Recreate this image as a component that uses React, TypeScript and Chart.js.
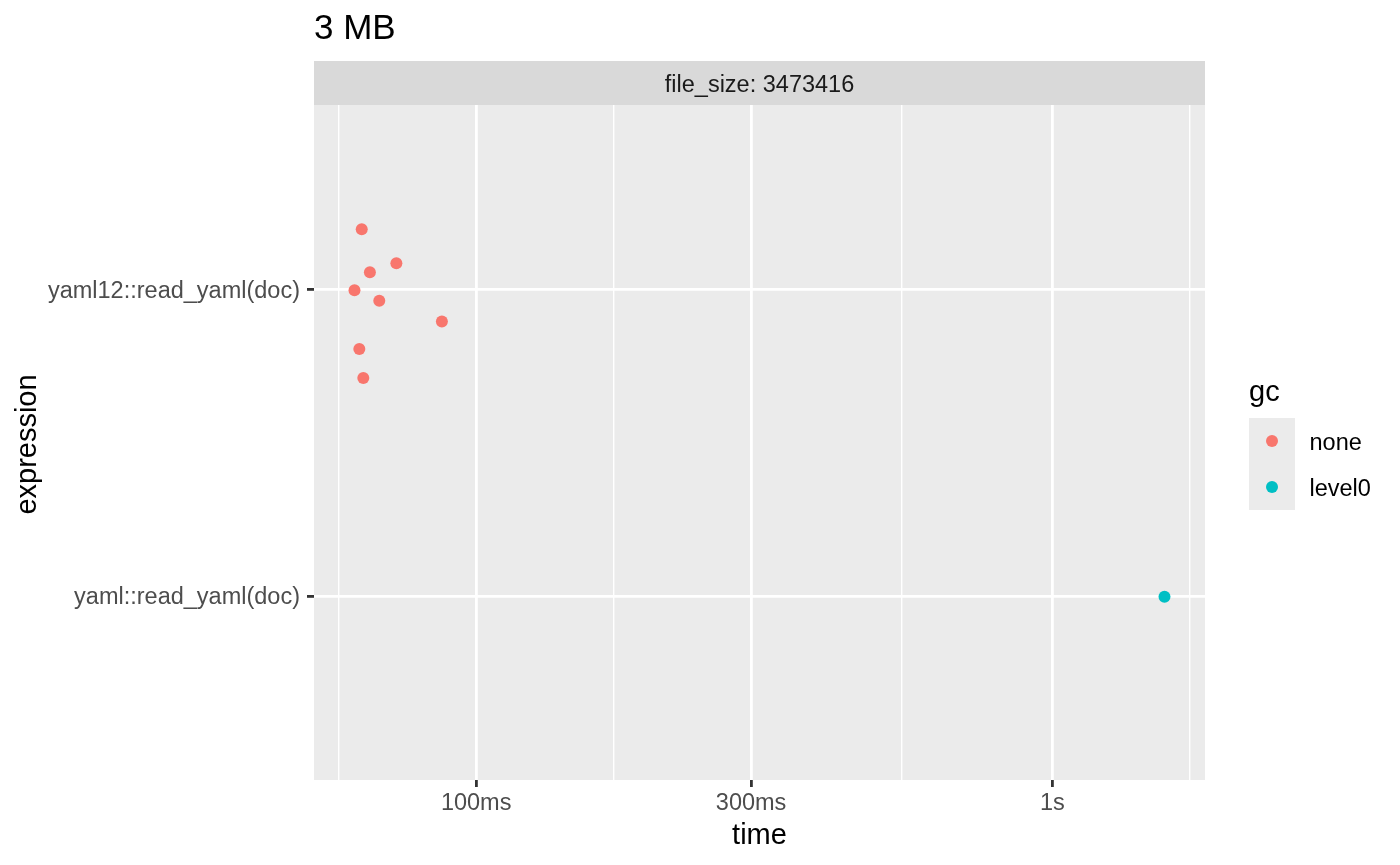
import React, { useEffect, useRef } from 'react';
import { Chart, registerables } from 'chart.js';

Chart.register(...registerables);

// ---- data ----
const chartTitle = '3 MB';
const stripLabel = 'file_size: 3473416';
const categories = ['yaml::read_yaml(doc)', 'yaml12::read_yaml(doc)'];
const gcLevels = ['none', 'level0'];
const gcColors = ['#F8766D', '#00BFC4'];

const noneCategory = 'yaml12::read_yaml(doc)';
const noneTimesMs = [63.3, 72.7, 65.4, 61.5, 67.9, 87.2, 62.7, 63.7];
const noneJitter = [0.195, 0.084, 0.055, -0.004, -0.038, -0.106, -0.195, -0.29];

const level0Category = 'yaml::read_yaml(doc)';
const level0TimesMs = [1565];
const level0Jitter = [-0.003];

const majorBreaksMs = [100, 300, 1000];
const majorLabels = ['100ms', '300ms', '1s'];

const xTitle = 'time';
const yTitle = 'expression';
const legendTitle = 'gc';

const FONT = '"Liberation Sans", Arial, Helvetica, sans-serif';
const SMALL = 23.5;

// ---- derived scale settings (ggplot-like) ----
const allLogs = [...noneTimesMs, ...level0TimesMs].map(Math.log10);
const logMin = Math.min(...allLogs);
const logMax = Math.max(...allLogs);
const logExp = (logMax - logMin) * 0.05;
const xMin = Math.pow(10, logMin - logExp);
const xMax = Math.pow(10, logMax + logExp);

const majLog = majorBreaksMs.map(Math.log10);
const bd = majLog[1] - majLog[0];
const extLog = [majLog[0] - bd, ...majLog, majLog[majLog.length - 1] + bd];
const minorBreaksMs: number[] = [];
for (let i = 0; i < extLog.length - 1; i++) {
  const v = Math.pow(10, (extLog[i] + extLog[i + 1]) / 2);
  if (v >= xMin && v <= xMax) minorBreaksMs.push(v);
}
const xTicksAll = [...minorBreaksMs, ...majorBreaksMs].sort((a, b) => a - b);
const isMajor = (v: number) => majorBreaksMs.some((m) => Math.abs(m - v) < 1e-6);

const yMin = 0.4;
const yMax = categories.length + 0.6;

const catPos = (c: string) => categories.indexOf(c) + 1;

const noneData = noneTimesMs.map((t, i) => ({ x: t, y: catPos(noneCategory) + noneJitter[i] }));
const level0Data = level0TimesMs.map((t, i) => ({ x: t, y: catPos(level0Category) + level0Jitter[i] }));

const POINT_R = 6;

const decorPlugin = {
  id: 'ggDecor',
  beforeDraw(chart: any) {
    const { ctx, chartArea: a } = chart;
    ctx.save();
    ctx.fillStyle = '#FFFFFF';
    ctx.fillRect(0, 0, chart.width, chart.height);
    ctx.fillStyle = '#EBEBEB';
    ctx.fillRect(a.left, a.top, a.right - a.left, a.bottom - a.top);
    ctx.restore();
  },
  afterDraw(chart: any) {
    const { ctx, chartArea: a } = chart;
    ctx.save();
    // title
    ctx.fillStyle = '#000000';
    ctx.font = `35px ${FONT}`;
    ctx.textAlign = 'left';
    ctx.textBaseline = 'alphabetic';
    ctx.fillText(chartTitle, a.left, 39);

    // strip
    ctx.fillStyle = '#D9D9D9';
    ctx.fillRect(a.left, 61, a.right - a.left, a.top - 61);
    ctx.fillStyle = '#1A1A1A';
    ctx.font = `${SMALL}px ${FONT}`;
    ctx.textAlign = 'center';
    ctx.textBaseline = 'alphabetic';
    ctx.fillText(stripLabel, (a.left + a.right) / 2, 92);

    // x title
    ctx.fillStyle = '#000000';
    ctx.font = `29px ${FONT}`;
    ctx.textAlign = 'center';
    ctx.textBaseline = 'alphabetic';
    ctx.fillText(xTitle, (a.left + a.right) / 2, 844);

    // y title
    ctx.save();
    ctx.translate(36, (a.top + a.bottom) / 2 + 2);
    ctx.rotate(-Math.PI / 2);
    ctx.fillText(yTitle, 0, 0);
    ctx.restore();

    // legend
    ctx.textAlign = 'left';
    ctx.fillText(legendTitle, 1249, 401);
    const keyX = 1249;
    const keyY = 418;
    const keySize = 46;
    ctx.fillStyle = '#EBEBEB';
    ctx.fillRect(keyX, keyY, keySize, keySize * gcLevels.length);
    ctx.font = `${SMALL}px ${FONT}`;
    ctx.textBaseline = 'alphabetic';
    gcLevels.forEach((lvl, i) => {
      const cy = keyY + keySize * i + keySize / 2;
      ctx.fillStyle = gcColors[i];
      ctx.beginPath();
      ctx.arc(keyX + keySize / 2, cy, POINT_R, 0, Math.PI * 2);
      ctx.fill();
      ctx.fillStyle = '#000000';
      ctx.fillText(lvl, keyX + keySize + 14.5, cy + 9);
    });
    ctx.restore();
  },
};

export default function App() {
  const canvasRef = useRef<HTMLCanvasElement | null>(null);

  useEffect(() => {
    if (!canvasRef.current) return;
    const chart = new Chart(canvasRef.current, {
      type: 'scatter',
      data: {
        datasets: [
          {
            label: gcLevels[0],
            data: noneData,
            backgroundColor: gcColors[0],
            borderWidth: 0,
            pointRadius: POINT_R,
            pointHoverRadius: POINT_R,
          },
          {
            label: gcLevels[1],
            data: level0Data,
            backgroundColor: gcColors[1],
            borderWidth: 0,
            pointRadius: POINT_R,
            pointHoverRadius: POINT_R,
          },
        ],
      },
      options: {
        responsive: false,
        animation: false,
        devicePixelRatio: 1,
        layout: { padding: { top: 105, right: 195, left: 0, bottom: 0 } },
        plugins: {
          legend: { display: false },
          tooltip: { enabled: false },
          title: { display: false },
        },
        scales: {
          x: {
            type: 'logarithmic',
            min: xMin,
            max: xMax,
            bounds: 'data',
            afterBuildTicks: (scale: any) => {
              scale.ticks = xTicksAll.map((v) => ({ value: v, major: false }));
            },
            afterFit: (scale: any) => {
              scale.height = 85;
            },
            border: { display: false },
            grid: {
              color: '#FFFFFF',
              lineWidth: (ctx: any) => (ctx.tick && isMajor(ctx.tick.value) ? 2.8 : 1.4),
              drawTicks: true,
              tickLength: 7,
              tickWidth: 2.8,
              tickColor: (ctx: any) => (ctx.tick && isMajor(ctx.tick.value) ? '#333333' : 'rgba(0,0,0,0)'),
            },
            ticks: {
              autoSkip: false,
              maxRotation: 0,
              minRotation: 0,
              padding: 2,
              color: '#4D4D4D',
              font: { family: FONT, size: SMALL },
              callback: (value: any) => {
                const idx = majorBreaksMs.findIndex((m) => Math.abs(m - Number(value)) < 1e-6);
                return idx >= 0 ? majorLabels[idx] : '';
              },
            },
          },
          y: {
            type: 'linear',
            min: yMin,
            max: yMax,
            bounds: 'data',
            afterBuildTicks: (scale: any) => {
              scale.ticks = categories.map((_, i) => ({ value: i + 1 }));
            },
            afterFit: (scale: any) => {
              scale.width = 314;
            },
            border: { display: false },
            grid: {
              color: '#FFFFFF',
              lineWidth: 2.8,
              drawTicks: true,
              tickLength: 7,
              tickWidth: 2.8,
              tickColor: '#333333',
            },
            ticks: {
              autoSkip: false,
              padding: 7,
              labelOffset: 2,
              color: '#4D4D4D',
              font: { family: FONT, size: SMALL },
              callback: (value: any) => categories[Math.round(Number(value)) - 1] ?? '',
            },
          },
        },
      },
      plugins: [decorPlugin],
    } as any);
    return () => chart.destroy();
  }, []);

  return (
    <div style={{ position: 'fixed', left: 0, top: 0, width: 1400, height: 865, background: '#fff' }}>
      <canvas ref={canvasRef} width={1400} height={865} style={{ width: 1400, height: 865, display: 'block' }} />
    </div>
  );
}
